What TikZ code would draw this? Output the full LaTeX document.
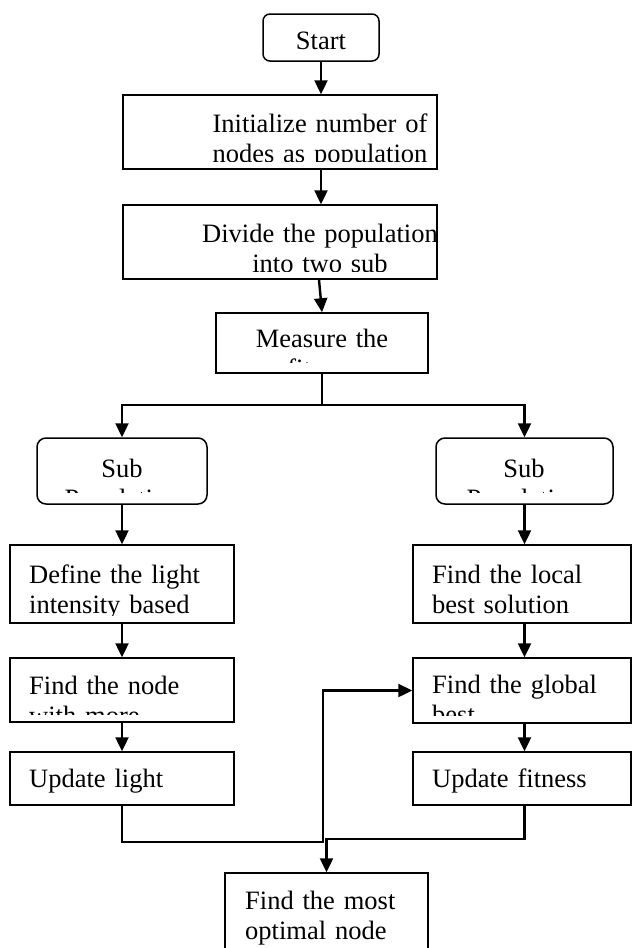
\documentclass[tikz,border=0pt]{standalone}
\usepackage{fontspec}
\setmainfont{Liberation Serif}
\usetikzlibrary{arrows.meta,positioning,calc}

\tikzset{
  box/.style 2 args={draw, line width=1.5pt, minimum width=#1, minimum height=#2, inner sep=0pt},
  roundbox/.style 2 args={box={#1}{#2}, rounded corners=9pt},
  ctext/.style={inner sep=0pt, font=\fontsize{26.5}{30}\selectfont, text width=310pt, align=center, anchor=base},
  ltext/.style={inner sep=0pt, font=\fontsize{26.5}{30}\selectfont, text width=200pt, align=left, anchor=base west},
  wire/.style={line width=2.4pt},
  flow/.style={wire, -{Triangle[length=14pt,width=13pt]}}
}
% text is cut off a little above the lower border of its box
\newcommand{\cliptext}[5][8pt]{\begin{scope}
  \clip ([yshift=#1]#2.south west) rectangle (#2.north east);
  \node[#3] (#2-txt) at (#4) {#5};
\end{scope}}

\begin{document}
\begin{tikzpicture}[x=1pt,y=-1pt]
\useasboundingbox (0,0) rectangle (632,948);
\fill[white] (0,0) rectangle (632,948);

% boxes
\node[roundbox={116pt}{47pt}, rounded corners=7pt] (start) at (321,37.5) {};
\node[box={314pt}{74pt}] (init) at (280,132) {};
\node[box={314pt}{74pt}] (divide) at (280,242) {};
\node[box={212pt}{60pt}] (measure) at (322,343) {};
\node[roundbox={170pt}{66pt}] (subL) at (122,471) {};
\node[roundbox={177pt}{66pt}] (subR) at (524.5,471) {};
\node[box={224pt}{78pt}] (define) at (122,584) {};
\node[box={224pt}{64pt}] (brighter) at (122,690) {};
\node[box={224pt}{53pt}] (light) at (122,778.5) {};
\node[box={218pt}{78pt}] (local) at (522,584) {};
\node[box={218pt}{65pt}] (global) at (522,690.5) {};
\node[box={218pt}{53pt}] (fitness) at (522,778.5) {};
\node[box={203pt}{87pt}] (optimal) at (326.5,916.5) {};

% texts
\cliptext{start}{ctext}{321,49}{Start}
\cliptext{init}{ctext}{320,132}{Initialize number of\\nodes as population}
\cliptext{divide}{ctext}{320,242}{Divide the population\\into two sub}
\cliptext[11pt]{measure}{ctext}{322,347}{Measure the\\fitness}
\cliptext[12pt]{subL}{ctext}{122,477}{Sub\\Population}
\cliptext[12pt]{subR}{ctext}{524,477}{Sub\\Population}
\cliptext{define}{ltext}{29,583}{Define the light\\intensity based}
\cliptext{brighter}{ltext}{29,694}{Find the node\\with more}
\cliptext{light}{ltext}{29,787}{Update light}
\cliptext{local}{ltext}{432,583}{Find the local\\best solution}
\cliptext{global}{ltext}{432,693}{Find the global\\best}
\cliptext{fitness}{ltext}{432,787}{Update fitness}
\cliptext{optimal}{ltext}{245,909}{Find the most\\optimal node}

% connectors
\coordinate (split) at (322,405);
\coordinate (loopL) at (323,842);
\coordinate (loopR) at (326.5,839);
\draw[flow] (start.south) -- (start.south |- init.north);
\draw[flow] (init.south -| start) -- (divide.north -| start);
\draw[flow] ([xshift=39pt]divide.south) -- (measure.north);
\draw[wire] (measure.south) -- (split);
\draw[flow] (split) -| (subL.north);
\draw[flow] (split) -| (subR.north);
\draw[flow] (subL) -- (define);
\draw[flow] (define) -- (brighter);
\draw[flow] (brighter) -- (light);
\draw[flow] (subR.south) -- (subR.south |- local.north);
\draw[flow] (local.south -| subR) -- (global.north -| subR);
\draw[flow] (global.south -| subR) -- (fitness.north -| subR);
\draw[flow] (light.south) |- (loopL) |- (global.west);
\draw[flow] (fitness.south -| subR) |- (loopR) -- (optimal.north);
\end{tikzpicture}
\end{document}
